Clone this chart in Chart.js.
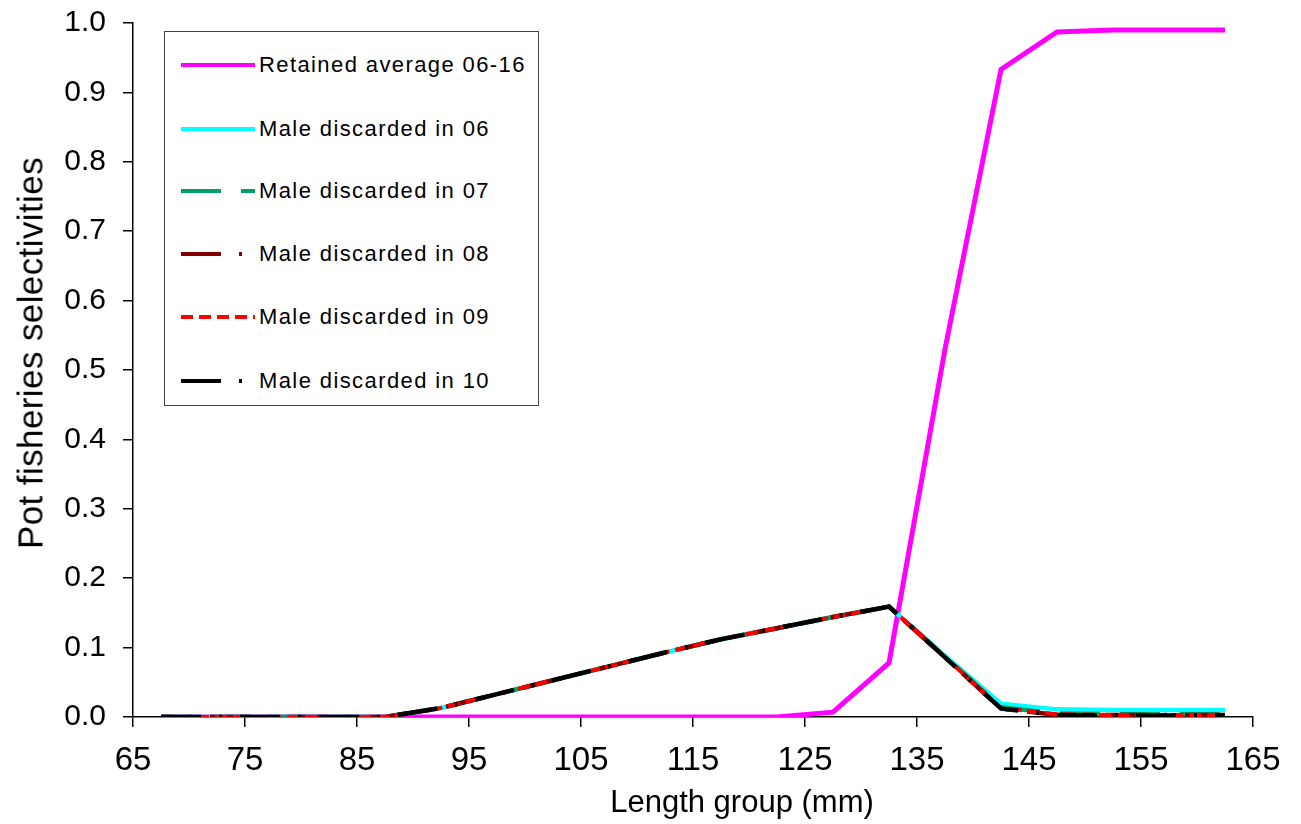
<!DOCTYPE html>
<html>
<head>
<meta charset="utf-8">
<script src="https://cdn.jsdelivr.net/npm/chart.js@4/dist/chart.umd.min.js"></script>
<style>
  html, body { margin: 0; padding: 0; background: #fff; }
  #wrap { position: relative; width: 1301px; height: 824px; font-family: 'Liberation Sans', Arial, sans-serif; color: #000; }
  #legend {
    position: absolute; left: 164px; top: 31px; width: 375px; height: 375px;
    border: 1.5px solid #444; background: #fff; box-sizing: border-box;
    font-size: 22px; letter-spacing: 1.4px;
  }
  .legend-item { position: absolute; left: 16px; height: 30px; display: flex; align-items: center; white-space: nowrap; }
  .legend-item svg { width: 76px; height: 10px; margin-right: 2px; }
  .axis-title { position: absolute; white-space: nowrap; line-height: 1; }
  #x-title { left: 742px; top: 786px; font-size: 31px; transform: translateX(-50%); }
  #y-title { left: 30px; top: 353px; font-size: 35px; letter-spacing: 0.4px; transform: translate(-50%, -50%) rotate(-90deg); }
</style>
</head>
<body>
<div id="wrap">
  <canvas id="chart" width="1301" height="824"></canvas>
  <div id="legend"></div>
  <div class="axis-title" id="x-title">Length group (mm)</div>
  <div class="axis-title" id="y-title">Pot fisheries selectivities</div>
</div>
<script>
// ─── DATA ───────────────────────────────────────────────────────────
const lengthGroups = [67.5, 72.5, 77.5, 82.5, 87.5, 92.5, 97.5, 102.5, 107.5, 112.5,
                      117.5, 122.5, 127.5, 132.5, 137.5, 142.5, 147.5, 152.5, 157.5, 162.5];
const retainedAvg  = [0, 0, 0, 0, 0, 0, 0, 0, 0, 0, 0, 0, 0.007, 0.078, 0.53, 0.933, 0.987, 0.99, 0.99, 0.99];
const discarded06  = [0, 0, 0, 0, 0, 0.013, 0.033, 0.053, 0.073, 0.093, 0.112, 0.128, 0.144, 0.159, 0.088, 0.019, 0.011, 0.010, 0.010, 0.010];
const discarded07  = [0, 0, 0, 0, 0, 0.013, 0.033, 0.053, 0.073, 0.093, 0.112, 0.128, 0.144, 0.159, 0.087, 0.014, 0.005, 0.004, 0.004, 0.004];
const discarded08  = [0, 0, 0, 0, 0, 0.013, 0.033, 0.053, 0.073, 0.093, 0.112, 0.128, 0.144, 0.159, 0.086, 0.012, 0.003, 0.003, 0.003, 0.003];
const discarded09  = [0, 0, 0, 0, 0, 0.013, 0.033, 0.053, 0.073, 0.093, 0.112, 0.128, 0.144, 0.159, 0.086, 0.013, 0.004, 0.003, 0.003, 0.003];
const discarded10  = [0, 0, 0, 0, 0, 0.013, 0.033, 0.053, 0.073, 0.093, 0.112, 0.128, 0.144, 0.159, 0.086, 0.012, 0.003, 0.002, 0.002, 0.002];
const xTicks = [65, 75, 85, 95, 105, 115, 125, 135, 145, 155, 165];

const FONT = "'Liberation Sans', Arial, sans-serif";

// label, data, colour, line width, dash pattern, dash offset, draw order (lower = on top)
const series = [
  { label: 'Retained average 06-16', data: retainedAvg, color: '#FF00FF', width: 5,   dash: [],              offset: 0,  order: 6 },
  { label: 'Male discarded in 06',   data: discarded06, color: '#00FFFF', width: 4.5, dash: [],              offset: 0,  order: 5 },
  { label: 'Male discarded in 07',   data: discarded07, color: '#00A064', width: 4.5, dash: [40, 20],        offset: 10, order: 4 },
  { label: 'Male discarded in 08',   data: discarded08, color: '#800000', width: 4.5, dash: [40, 18, 3, 18], offset: 30, order: 3 },
  { label: 'Male discarded in 09',   data: discarded09, color: '#FF0000', width: 4,   dash: [12, 6],         offset: 0,  order: 2 },
  { label: 'Male discarded in 10',   data: discarded10, color: '#000000', width: 4.5, dash: [40, 18, 3, 18], offset: 0,  order: 1 }
];

const datasets = series.map(s => ({
  label: s.label,
  data: lengthGroups.map((x, i) => ({ x, y: s.data[i] })),
  borderColor: s.color,
  backgroundColor: s.color,
  borderWidth: s.width,
  borderDash: s.dash,
  borderDashOffset: s.offset,
  pointRadius: 0,
  tension: 0,
  fill: false,
  order: s.order
}));

new Chart(document.getElementById('chart'), {
  type: 'line',
  data: { datasets },
  options: {
    responsive: false,
    animation: false,
    layout: { padding: { top: 23, right: 48, left: 0, bottom: 0 } },
    plugins: { legend: { display: false }, tooltip: { enabled: false } },
    scales: {
      x: {
        type: 'linear', min: 65, max: 165,
        afterBuildTicks: axis => { axis.ticks = xTicks.map(v => ({ value: v })); },
        afterFit: axis => { axis.height = 107; },
        ticks: { color: '#000', font: { family: FONT, size: 33 }, padding: 14, maxRotation: 0 },
        grid: { drawOnChartArea: false, drawTicks: true, tickLength: 10, color: '#000', lineWidth: 1.5 },
        border: { display: true, color: '#000', width: 1.5 }
      },
      y: {
        min: 0, max: 1,
        // fixed axis width; drop the label overhang so the plot top sits at the layout padding
        afterFit: axis => { axis.width = 133; axis.paddingTop = 0; axis.paddingBottom = 0; },
        ticks: { stepSize: 0.1, color: '#000', font: { family: FONT, size: 30 }, padding: 17, callback: v => v.toFixed(1) },
        grid: { drawOnChartArea: false, drawTicks: true, tickLength: 10, color: '#000', lineWidth: 1.5 },
        border: { display: true, color: '#000', width: 1.5 }
      }
    }
  }
});

// legend box inside the plot, samples drawn with the same dash patterns
const legendEl = document.getElementById('legend');
const rowTops = [18, 82, 144, 207, 270, 334];
legendEl.innerHTML = series.map((s, i) => `
  <div class="legend-item" style="top:${rowTops[i]}px">
    <svg viewBox="0 0 76 10"><line x1="0" y1="5" x2="74" y2="5" stroke="${s.color}" stroke-width="4"
      stroke-dasharray="${s.dash.length ? s.dash.join(' ') : 'none'}"/></svg>
    <span>${s.label}</span>
  </div>`).join('');
</script>
</body>
</html>
